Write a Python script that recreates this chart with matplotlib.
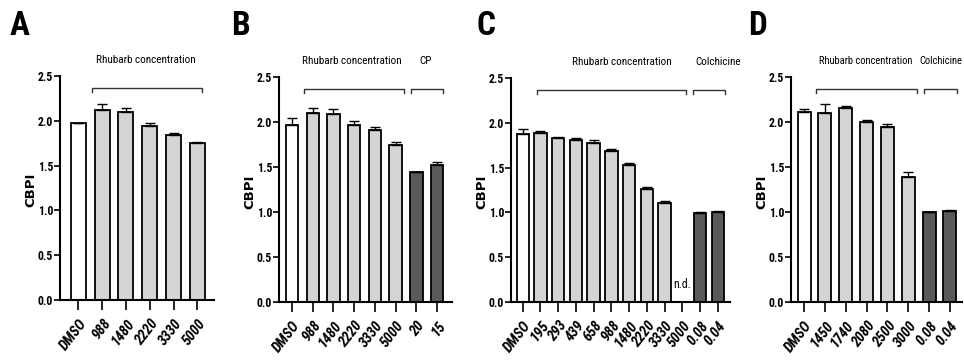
import matplotlib
matplotlib.use("Agg")
import matplotlib.pyplot as plt
from matplotlib import font_manager
import numpy as np

# ---------------- data ----------------
a_labels = ["DMSO", "988", "1480", "2220", "3330", "5000"]
a_values = [1.97, 2.12, 2.10, 1.94, 1.845, 1.755]
a_errors = [0.01, 0.07, 0.04, 0.04, 0.015, 0.012]
a_groups = ["ctrl", "rh", "rh", "rh", "rh", "rh"]

b_labels = ["DMSO", "988", "1480", "2220", "3330", "5000", "20", "15"]
b_values = [1.97, 2.095, 2.09, 1.97, 1.91, 1.74, 1.44, 1.52]
b_errors = [0.07, 0.065, 0.05, 0.045, 0.03, 0.04, 0.01, 0.04]
b_groups = ["ctrl", "rh", "rh", "rh", "rh", "rh", "pos", "pos"]

c_labels = ["DMSO", "195", "293", "439", "658", "988", "1480", "2220",
            "3330", "5000", "0.08", "0.04"]
c_values = [1.87, 1.89, 1.83, 1.81, 1.78, 1.69, 1.53, 1.265, 1.10, 0.0, 0.995, 1.01]
c_errors = [0.06, 0.02, 0.012, 0.015, 0.025, 0.015, 0.025, 0.02, 0.03, 0.0, 0.008, 0.01]
c_groups = ["ctrl", "rh", "rh", "rh", "rh", "rh", "rh", "rh", "rh", "nd", "pos", "pos"]

d_labels = ["DMSO", "1450", "1740", "2080", "2500", "3000", "0.08", "0.04"]
d_values = [2.115, 2.10, 2.16, 2.00, 1.94, 1.385, 0.995, 1.01]
d_errors = [0.025, 0.10, 0.02, 0.02, 0.035, 0.065, 0.008, 0.01]
d_groups = ["ctrl", "rh", "rh", "rh", "rh", "rh", "pos", "pos"]

y_ticks = [0.0, 0.5, 1.0, 1.5, 2.0, 2.5]
y_label = "CBPI"

# ---------------- fonts ----------------
entries = font_manager.fontManager.ttflist


def _w(f):
    w = f.weight
    if isinstance(w, str):
        return font_manager.weight_dict.get(w, 400)
    return w


cond = [f for f in entries if ("Narrow" in f.name or "Condensed" in f.name)]
cond_names = sorted({f.name for f in cond})
bold_cond = sorted({f.name for f in cond if _w(f) >= 600})
preferred = ["Liberation Sans Narrow", "Roboto Condensed", "Open Sans Condensed",
             "Noto Sans Condensed", "DejaVu Sans Condensed"]


def pick(names):
    for p in preferred:
        if p in names:
            return p
    return names[0] if names else None


narrow_bold = pick(bold_cond)
narrow_reg = pick(cond_names)
if narrow_reg is None:
    narrow_reg = "Liberation Sans"
if narrow_bold is None:
    narrow_bold = "Liberation Sans"
plt.rcParams["font.family"] = [narrow_reg, "DejaVu Sans"]
bold_fam = [narrow_bold, "DejaVu Sans"]

colors = {"ctrl": "white", "rh": "#d4d4d4", "pos": "#5a5a5a", "nd": "white"}

fig = plt.figure(figsize=(9.64, 3.6), dpi=100)
W, H = 964.0, 360.0


def make_axes(left_px, right_px, top_px, bottom_px):
    return fig.add_axes([left_px / W, 1 - bottom_px / H,
                         (right_px - left_px) / W, (bottom_px - top_px) / H])


def draw_panel(ax, labels, values, errors, groups, xlim, width, width_px):
    x = np.arange(len(labels))
    for xi, v, e, g in zip(x, values, errors, groups):
        if g == "nd":
            continue
        ax.bar(xi, v, width=width, color=colors[g], edgecolor="black",
               linewidth=1.3, zorder=2)
        ax.errorbar(xi, v, yerr=[[0], [e]], fmt="none", ecolor="black",
                    elinewidth=1.0, capsize=3.5, capthick=1.0, zorder=3)
    ax.set_xlim(*xlim)
    ax.set_ylim(0, 2.5)
    ax.set_yticks(y_ticks)
    ax.set_yticklabels([f"{t:.1f}" for t in y_ticks], fontsize=8.5,
                       fontweight="bold", family=bold_fam)
    ax.set_xticks(x)
    ax.set_xticklabels(labels, rotation=52, ha="right", rotation_mode="anchor",
                       fontsize=10.5, fontweight="bold", fontstyle="italic",
                       family=bold_fam)
    for s in ["top", "right"]:
        ax.spines[s].set_visible(False)
    for s in ["left", "bottom"]:
        ax.spines[s].set_linewidth(1.5)
    ax.tick_params(axis="y", direction="out", length=4, width=1.2, pad=1.0)
    ax.tick_params(axis="x", direction="out", length=7, width=1.2, pad=5)
    ax.set_ylabel(y_label, fontsize=9.5, fontweight="bold",
                  family=["DejaVu Sans"])
    ax.yaxis.set_label_coords(-23.0 / width_px, 0.49)
    return x


def bracket(ax, x0, x1, y):
    drop = 0.05
    ax.plot([x0, x0, x1, x1], [y - drop, y, y, y - drop], color="#333333",
            lw=1.0, clip_on=False)


def group_text(ax, xc, text, ty=2.68, fs=8.0):
    ax.text(xc, ty, text, ha="center", va="center",
            fontsize=fs, clip_on=False)


def letter(xpx, ypx, s):
    fig.text(xpx / W, 1 - ypx / H, s, fontsize=24, fontweight="bold",
             ha="left", va="center", family=bold_fam)


# Panel A
axA = make_axes(60, 214, 76, 300)
draw_panel(axA, a_labels, a_values, a_errors, a_groups, (-0.77, 5.70), 0.63, 154)
bracket(axA, 0.58, 5.2, 2.37)
group_text(axA, 2.84, "Rhubarb concentration")

# Panel B
axB = make_axes(279, 452, 77, 302)
draw_panel(axB, b_labels, b_values, b_errors, b_groups, (-0.63, 7.72), 0.6, 173)
bracket(axB, 0.58, 5.41, 2.37)
bracket(axB, 5.75, 7.3, 2.37)
group_text(axB, 2.9, "Rhubarb concentration")
group_text(axB, 6.45, "CP")

# Panel C
axC = make_axes(511, 730, 78, 302)
draw_panel(axC, c_labels, c_values, c_errors, c_groups, (-0.66, 11.68), 0.7, 219)
bracket(axC, 0.79, 9.2, 2.37)
bracket(axC, 9.6, 11.38, 2.37)
group_text(axC, 5.57, "Rhubarb concentration")
group_text(axC, 11.0, "Colchicine")
axC.text(9.0, 0.2, "n.d.", ha="center", va="center", fontsize=8.5)

# Panel D
axD = make_axes(791, 962, 77, 302)
draw_panel(axD, d_labels, d_values, d_errors, d_groups, (-0.63, 7.58), 0.62, 171)
bracket(axD, 0.58, 5.43, 2.37)
bracket(axD, 5.77, 7.36, 2.37)
group_text(axD, 2.95, "Rhubarb concentration", fs=7.6)
group_text(axD, 6.55, "Colchicine", fs=7.6)

letter(10, 26, "A")
letter(231, 26, "B")
letter(477, 26, "C")
letter(748, 26, "D")

fig.savefig("out.png", dpi=100)
